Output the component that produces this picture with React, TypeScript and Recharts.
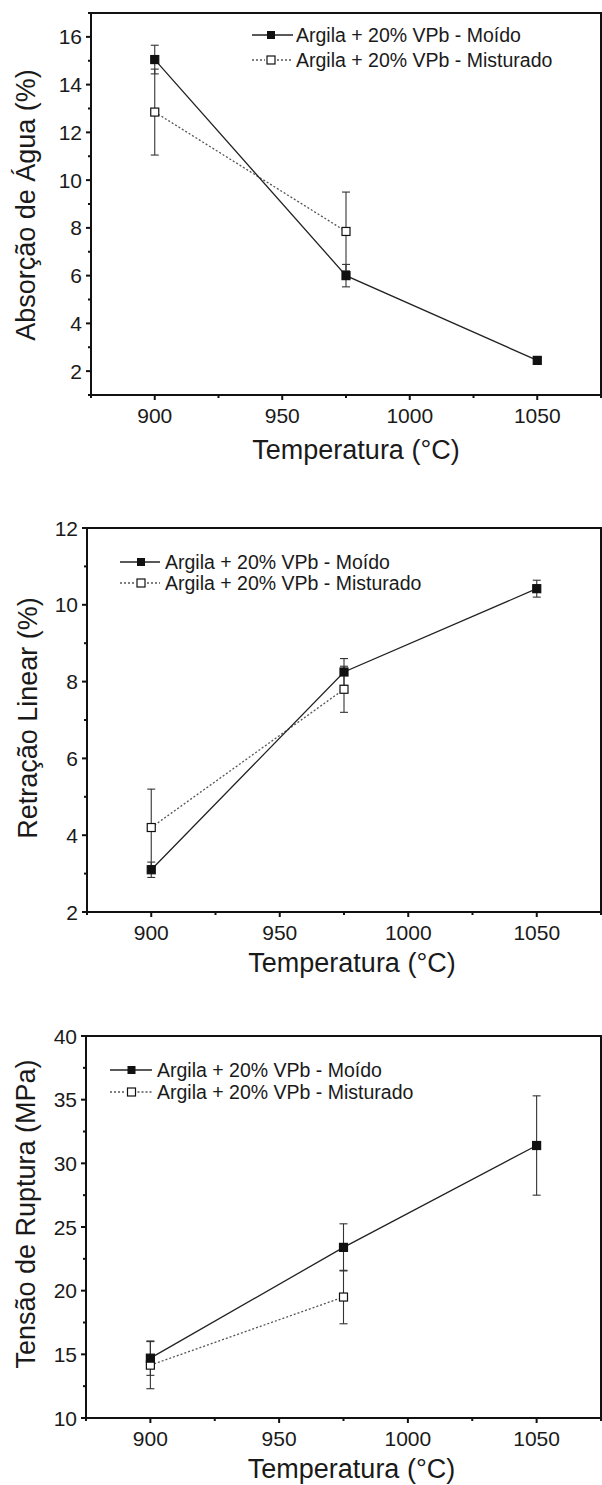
import React from 'react'
import { LineChart, Line, XAxis, YAxis, ErrorBar, ReferenceArea, Legend, Label } from 'recharts'

const FONT = '"Liberation Sans", Arial, sans-serif'
const TXT = '#1a1a1a'

const temperaturas = [900, 975, 1050]
const rotuloMoido = 'Argila + 20% VPb - Moído'
const rotuloMisturado = 'Argila + 20% VPb - Misturado'

// eixo x (os menores sem rótulo)
const xTicks = [875, 900, 925, 950, 975, 1000, 1025, 1050, 1075]
const xRotulos = [900, 950, 1000, 1050]

// Absorção de água (%)
const absMoido = [15.05, 6.0, 2.45]
const absMoidoErr = [0.6, 0.47, 0.1]
const absMisturado = [12.85, 7.85, null]
const absMisturadoErr = [1.8, 1.65, null]
const absTicks = [1, 2, 3, 4, 5, 6, 7, 8, 9, 10, 11, 12, 13, 14, 15, 16, 17]
const absRotulos = [2, 4, 6, 8, 10, 12, 14, 16]

// Retração linear (%)
const retMoido = [3.1, 8.25, 10.42]
const retMoidoErr = [0.2, 0.35, 0.22]
const retMisturado = [4.2, 7.8, null]
const retMisturadoErr = [1.0, 0.6, null]
const retTicks = [2, 3, 4, 5, 6, 7, 8, 9, 10, 11, 12]
const retRotulos = [2, 4, 6, 8, 10, 12]

// Tensão de ruptura (MPa)
const tenMoido = [14.7, 23.4, 31.4]
const tenMoidoErr = [1.35, 1.85, 3.9]
const tenMisturado = [14.15, 19.5, null]
const tenMisturadoErr = [1.85, 2.1, null]
const tenTicks = [10, 12.5, 15, 17.5, 20, 22.5, 25, 27.5, 30, 32.5, 35, 37.5, 40]
const tenRotulos = [10, 15, 20, 25, 30, 35, 40]

const tabela = (moido: number[], moidoErr: number[], mist: (number | null)[], mistErr: (number | null)[]) =>
  temperaturas.map((t, i) => ({
    t,
    moido: moido[i],
    moidoErr: moidoErr[i],
    mist: mist[i],
    mistErr: mistErr[i]
  }))

const quadrado = (cheio: boolean) => (props: any) => {
  const { cx, cy, index } = props
  if (cx == null || cy == null || isNaN(cy)) return <g key={`d${index}`} />
  return (
    <rect
      key={`d${index}`}
      x={cx - 4}
      y={cy - 4}
      width={8}
      height={8}
      fill={cheio ? '#111' : '#fff'}
      stroke="#111"
      strokeWidth={1.2}
    />
  )
}

const XTick = (props: any) => {
  const { x, y, payload } = props
  const major = xRotulos.includes(payload.value)
  return (
    <g>
      <line x1={x} x2={x} y1={y} y2={y + (major ? 5 : 3)} stroke="#111" strokeWidth={2} />
      {major && (
        <text x={x} y={y + 28} textAnchor="middle" fontSize={21} fontFamily={FONT} fill={TXT}>
          {payload.value}
        </text>
      )}
    </g>
  )
}

const yTick = (rotulos: number[]) => (props: any) => {
  const { x, y, payload } = props
  const major = rotulos.includes(payload.value)
  return (
    <g>
      <line x1={x - (major ? 5 : 3)} x2={x} y1={y} y2={y} stroke="#111" strokeWidth={2} />
      {major && (
        <text x={x - 9} y={y + 7.5} textAnchor="end" fontSize={21} fontFamily={FONT} fill={TXT}>
          {payload.value}
        </text>
      )}
    </g>
  )
}

interface Leg {
  x0: number
  x1: number
  mx: number
  tx: number
  r1: number
  r2: number
}

const legenda = (l: Leg) => () => (
  <svg width={602} height={160} style={{ display: 'block' }}>
    <line x1={l.x0} x2={l.x1} y1={l.r1} y2={l.r1} stroke="#222" strokeWidth={1.3} />
    <rect x={l.mx - 4} y={l.r1 - 4} width={8} height={8} fill="#111" />
    <text x={l.tx} y={l.r1} dominantBaseline="central" fontSize={19.5} fontFamily={FONT} fill={TXT}>
      {rotuloMoido}
    </text>
    <line x1={l.x0} x2={l.mx - 6} y1={l.r2} y2={l.r2} stroke="#555" strokeWidth={1.3} strokeDasharray="2 2" />
    <line x1={l.mx + 6} x2={l.x1} y1={l.r2} y2={l.r2} stroke="#555" strokeWidth={1.3} strokeDasharray="2 2" />
    <rect x={l.mx - 4} y={l.r2 - 4} width={8} height={8} fill="#fff" stroke="#111" strokeWidth={1.2} />
    <text x={l.tx} y={l.r2} dominantBaseline="central" fontSize={19.5} fontFamily={FONT} fill={TXT}>
      {rotuloMisturado}
    </text>
  </svg>
)

interface PainelProps {
  top: number
  height: number
  plotLeft: number
  plotTop: number
  xAxisH: number
  yDomain: [number, number]
  yTicks: number[]
  yRotulos: number[]
  yTitulo: string
  yTituloX: number
  yTituloDy: number
  xTituloDx: number
  xTituloDown: number
  dados: any[]
  leg: Leg
}

function Painel(p: PainelProps) {
  return (
    <div style={{ position: 'absolute', left: 0, top: p.top, width: 602, height: p.height }}>
      <LineChart
        width={602}
        height={p.height}
        data={p.dados}
        margin={{ top: p.plotTop, right: 1, bottom: 0, left: 0 }}
      >
        <XAxis
          dataKey="t"
          type="number"
          domain={[875, 1075]}
          ticks={xTicks}
          interval={0}
          height={p.xAxisH}
          tickSize={0}
          tickMargin={0}
          tickLine={false}
          axisLine={{ stroke: '#111', strokeWidth: 2 }}
          tick={XTick}
        >
          <Label
            content={(lp: any) => {
              const vb = lp.viewBox || {}
              return (
                <text
                  x={vb.x + vb.width / 2 + p.xTituloDx}
                  y={vb.y + p.xTituloDown}
                  textAnchor="middle"
                  fontSize={27}
                  fontFamily={FONT}
                  fill={TXT}
                >
                  Temperatura (°C)
                </text>
              )
            }}
          />
        </XAxis>
        <YAxis
          type="number"
          domain={p.yDomain}
          ticks={p.yTicks}
          interval={0}
          width={p.plotLeft}
          tickSize={0}
          tickMargin={0}
          tickLine={false}
          axisLine={{ stroke: '#111', strokeWidth: 2 }}
          tick={yTick(p.yRotulos)}
        >
          <Label
            content={(lp: any) => {
              const vb = lp.viewBox || {}
              const cy = vb.y + vb.height / 2 + p.yTituloDy
              return (
                <text
                  transform={`translate(${p.yTituloX},${cy}) rotate(-90)`}
                  textAnchor="middle"
                  dominantBaseline="central"
                  fontSize={27}
                  fontFamily={FONT}
                  fill={TXT}
                >
                  {p.yTitulo}
                </text>
              )
            }}
          />
        </YAxis>
        <ReferenceArea
          x1={875}
          x2={1075}
          y1={p.yDomain[0]}
          y2={p.yDomain[1]}
          fill="none"
          stroke="#111"
          strokeWidth={2}
          ifOverflow="visible"
        />
        <Legend
          layout="vertical"
          align="center"
          verticalAlign="middle"
          wrapperStyle={{ top: 0, left: 0, width: 602, height: 160 }}
          content={legenda(p.leg)}
        />
        <Line
          dataKey="mist"
          name={rotuloMisturado}
          type="linear"
          stroke="#555"
          strokeWidth={1.3}
          strokeDasharray="2 2"
          dot={quadrado(false)}
          activeDot={false}
          isAnimationActive={false}
        >
          <ErrorBar dataKey="mistErr" width={4} stroke="#333" strokeWidth={1.1} />
        </Line>
        <Line
          dataKey="moido"
          name={rotuloMoido}
          type="linear"
          stroke="#222"
          strokeWidth={1.3}
          dot={quadrado(true)}
          activeDot={false}
          isAnimationActive={false}
        >
          <ErrorBar dataKey="moidoErr" width={4} stroke="#333" strokeWidth={1.1} />
        </Line>
      </LineChart>
    </div>
  )
}

export default function App() {
  return (
    <div style={{ position: 'absolute', left: 0, top: 0, width: 602, height: 1485, background: '#fff' }}>
      <Painel
        top={0}
        height={480}
        plotLeft={91}
        plotTop={13}
        xAxisH={85}
        yDomain={[1, 17]}
        yTicks={absTicks}
        yRotulos={absRotulos}
        yTitulo="Absorção de Água (%)"
        yTituloX={26}
        yTituloDy={1}
        xTituloDx={10}
        xTituloDown={64}
        dados={tabela(absMoido, absMoidoErr, absMisturado, absMisturadoErr)}
        leg={{ x0: 252, x1: 293, mx: 271, tx: 296, r1: 35, r2: 60 }}
      />
      <Painel
        top={480}
        height={510}
        plotLeft={87}
        plotTop={48}
        xAxisH={78}
        yDomain={[2, 12]}
        yTicks={retTicks}
        yRotulos={retRotulos}
        yTitulo="Retração Linear (%)"
        yTituloX={28}
        yTituloDy={-2}
        xTituloDx={8}
        xTituloDown={60}
        dados={tabela(retMoido, retMoidoErr, retMisturado, retMisturadoErr)}
        leg={{ x0: 120, x1: 160, mx: 141, tx: 165, r1: 82, r2: 103 }}
      />
      <Painel
        top={960}
        height={525}
        plotLeft={86}
        plotTop={76}
        xAxisH={67}
        yDomain={[10, 40]}
        yTicks={tenTicks}
        yRotulos={tenRotulos}
        yTitulo="Tensão de Ruptura (MPa)"
        yTituloX={26}
        yTituloDy={-13}
        xTituloDx={8}
        xTituloDown={60}
        dados={tabela(tenMoido, tenMoidoErr, tenMisturado, tenMisturadoErr)}
        leg={{ x0: 110, x1: 152, mx: 131.5, tx: 157, r1: 110, r2: 132 }}
      />
    </div>
  )
}
